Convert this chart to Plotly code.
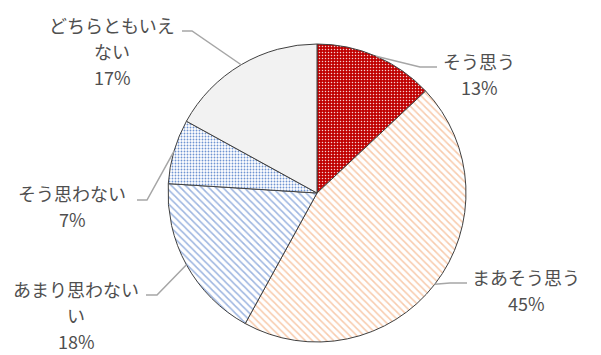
import math
import plotly.graph_objects as go

# Survey answers, clockwise from 12 o'clock
categories = ["そう思う", "まあそう思う", "あまり思わない", "そう思わない", "どちらともいえない"]
shares = [13, 45, 18, 7, 17]
# How each category name wraps in its label box
label_lines = [["そう思う"], ["まあそう思う"], ["あまり思わない", "い"], ["そう思わない"], ["どちらともいえ", "ない"]]

W, H = 601, 355
CX, CY, R = 317, 193, 149  # pie centre and radius in pixels

fills = [
    dict(bgcolor="#C00000", fgcolor="#F4D0D0", shape=".", size=3, solidity=0.2),
    dict(bgcolor="#FFFFFF", fgcolor="#F8CBAD", shape="\\", size=5, solidity=0.3),
    dict(bgcolor="#FFFFFF", fgcolor="#9DB5E0", shape="\\", size=5, solidity=0.3),
    dict(bgcolor="#FFFFFF", fgcolor="#6F94D2", shape=".", size=3, solidity=0.3),
    dict(bgcolor="#F2F2F2", fgcolor="#F2F2F2", shape="", size=3, solidity=0.3),
]
base_colors = ["#C00000", "#FFFFFF", "#FFFFFF", "#FFFFFF", "#F2F2F2"]

fig = go.Figure(go.Pie(
    labels=categories,
    values=shares,
    sort=False,
    direction="clockwise",
    rotation=0,
    textinfo="none",
    hoverinfo="label+percent",
    marker=dict(
        colors=base_colors,
        line=dict(color="#404040", width=1),
        pattern=dict(
            shape=[f["shape"] for f in fills],
            fgcolor=[f["fgcolor"] for f in fills],
            bgcolor=[f["bgcolor"] for f in fills],
            size=[f["size"] for f in fills],
            solidity=[f["solidity"] for f in fills],
            fillmode="replace",
        ),
    ),
    domain=dict(x=[(CX - R) / W, (CX + R) / W], y=[1 - (CY + R) / H, 1 - (CY - R) / H]),
    showlegend=False,
))


def paper(x, y):
    return x / W, 1 - y / H


# Label block placement: text centre x, first-line centre y, leader elbow and end (pixels)
label_layout = [
    dict(cx=479, y0=61, elbow=(420, 67), end=(437, 67)),
    dict(cx=526, y0=277, elbow=(450, 283), end=(467, 283)),
    dict(cx=76, y0=289, elbow=(157, 295), end=(146, 295)),
    dict(cx=72, y0=193, elbow=(147, 200), end=(137, 200)),
    dict(cx=112, y0=25, elbow=(192, 31), end=(182, 31)),
]
LINE_GAP = 26
TEXT_FONT = dict(family="Noto Sans CJK JP", size=18, color="#4F4F4F")

annotations = []
shapes = []
cum = 0
total = sum(shares)
for name_lines, share, lay in zip(label_lines, shares, label_layout):
    mid = (cum + share / 2) / total * 2 * math.pi
    cum += share
    sx = CX + R * math.sin(mid)
    sy = CY - R * math.cos(mid)
    pts = [(sx, sy), lay["elbow"], lay["end"]]
    path = "M " + " L ".join(f"{paper(px, py)[0]},{paper(px, py)[1]}" for px, py in pts)
    shapes.append(dict(type="path", path=path, xref="paper", yref="paper",
                       line=dict(color="#A6A6A6", width=1.5)))
    lines = name_lines + [f"{share}%"]
    for i, txt in enumerate(lines):
        x, y = paper(lay["cx"], lay["y0"] + i * LINE_GAP)
        annotations.append(dict(text=txt, x=x, y=y, xref="paper", yref="paper",
                                showarrow=False, xanchor="center", yanchor="middle",
                                borderpad=0, font=TEXT_FONT))

fig.update_layout(
    width=W, height=H,
    margin=dict(l=0, r=0, t=0, b=0),
    paper_bgcolor="#FFFFFF",
    plot_bgcolor="#FFFFFF",
    annotations=annotations,
    shapes=shapes,
)

fig.write_html("out.html")
